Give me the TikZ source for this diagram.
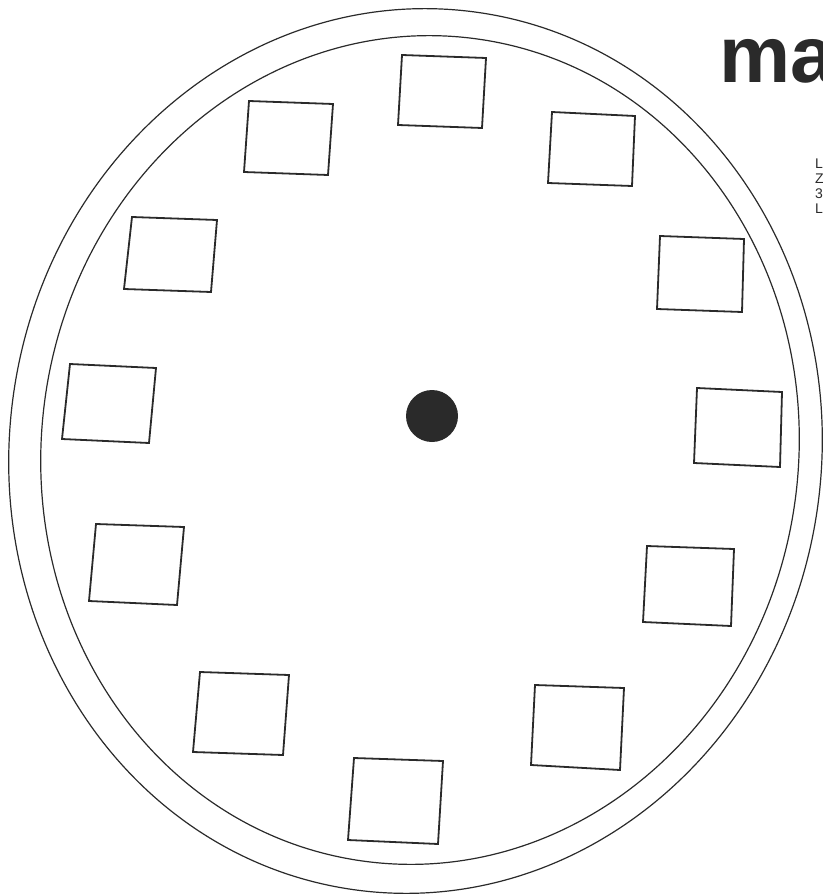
\documentclass[tikz,border=0pt]{standalone}
\usepackage{fontspec}
\setmainfont{Liberation Sans}
\definecolor{ink}{HTML}{2A2A2A}
\begin{document}
\begin{tikzpicture}[x=1pt,y=-1pt,
  rim/.style={draw=ink,line width=1.2pt},
  slot/.style={draw=ink,line width=1.8pt,line join=miter},
  hub/.style={fill=ink,draw=none},
  tag/.style={anchor=west,inner sep=0pt,text=ink,font=\fontsize{14}{14}\selectfont}]
\useasboundingbox (0,0) rectangle (822,896);
% rims
\draw[rim,rotate around={-8:(415.5,451)}] (415.5,451) ellipse [x radius=406, y radius=443];
\draw[rim,rotate around={-8:(420,450)}] (420,450) ellipse [x radius=378.5, y radius=415];
% hour slots (12 to 11)
\draw[slot] (402,55) -- (486,58) -- (482,128) -- (398,125) -- cycle;
\draw[slot] (552,112) -- (635,116) -- (632,186) -- (548,183) -- cycle;
\draw[slot] (660,236) -- (744,239) -- (742,312) -- (657,309) -- cycle;
\draw[slot] (697,388) -- (782,392) -- (780,467) -- (694,463) -- cycle;
\draw[slot] (647,546) -- (734,549) -- (731,626) -- (643,622) -- cycle;
\draw[slot] (535,685) -- (624,688) -- (620,770) -- (531,765) -- cycle;
\draw[slot] (354,758) -- (443,761) -- (438,844) -- (348,840) -- cycle;
\draw[slot] (200,672) -- (289,675) -- (283,755) -- (193,752) -- cycle;
\draw[slot] (96,524) -- (184,527) -- (177,605) -- (89,601) -- cycle;
\draw[slot] (70,364) -- (156,368) -- (149,443) -- (62,439) -- cycle;
\draw[slot] (132,217) -- (217,220) -- (211,292) -- (124,289) -- cycle;
\draw[slot] (249,101) -- (333,104) -- (328,175) -- (244,172) -- cycle;
% centre
\fill[hub] (432,416) circle [radius=26];
\node (hubnode) at (432,416) {};
% title
\node[anchor=base west,inner sep=0pt,text=ink,font=\fontsize{80}{80}\selectfont\bfseries] (title) at (719,83) {ma};
\node[tag] (t1) at (815,164) {L};
\node[tag] (t2) at (815,179) {Z};
\node[tag] (t3) at (815,194) {3};
\node[tag] (t4) at (815,209) {L};
\end{tikzpicture}
\end{document}
